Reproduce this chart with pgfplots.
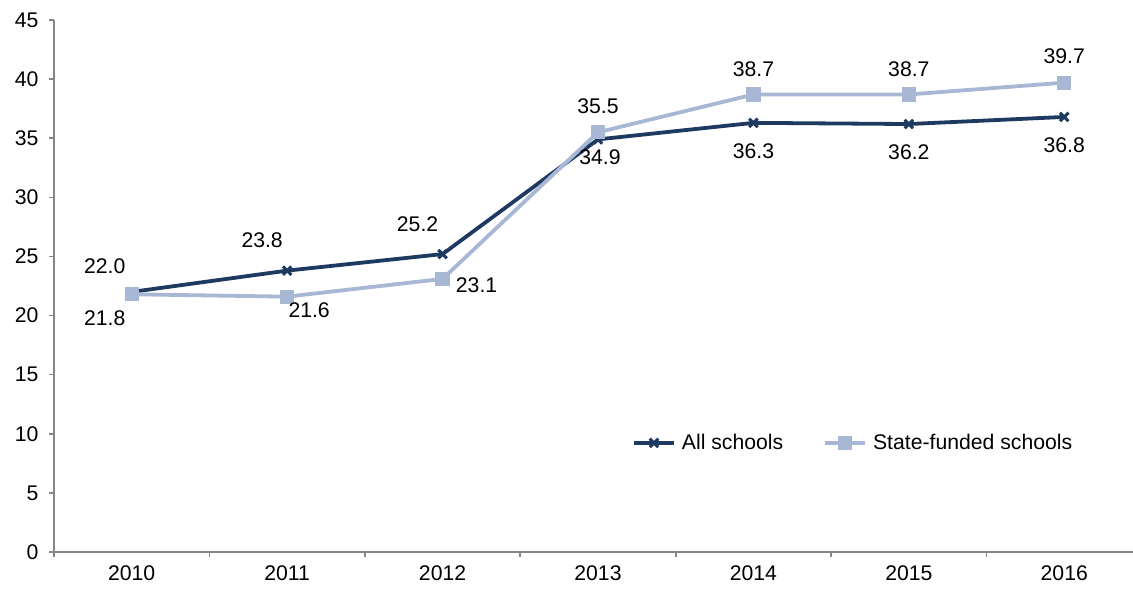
\documentclass[border=0pt]{standalone}
\usepackage{pgfplots}
\pgfplotsset{compat=1.18}
\usepackage{pgfplotstable}
\usepackage{fontspec}
\setmainfont{Liberation Sans}

\definecolor{allcol}{HTML}{1F3A60}
\definecolor{statecol}{HTML}{A7B7D4}
\definecolor{axcol}{HTML}{868686}

% x = category index (2010 = 0), dx/dy = label offset in pt
\pgfplotstableread{
x y lab dx dy
0 22.0 22.0 -13.5 13
1 23.8 23.8 -12.5 15
2 25.2 25.2 -12.5 15
3 34.9 34.9 1 -9
4 36.3 36.3 0 -14
5 36.2 36.2 0 -14
6 36.8 36.8 0 -14
}\allschools
\pgfplotstableread{
x y lab dx dy
0 21.8 21.8 -13.5 -12
1 21.6 21.6 11 -7
2 23.1 23.1 17 -3
3 35.5 35.5 0 13
4 38.7 38.7 0 12.5
5 38.7 38.7 0 12.5
6 39.7 39.7 0 13
}\statefunded

\begin{document}
\fontsize{10.6}{12}\selectfont
\begin{tikzpicture}
\begin{axis}[
    scale only axis,
    width=544pt, height=266pt,
    xmin=-0.5, xmax=6.5,
    ymin=0, ymax=45,
    ytick={0,5,...,45},
    xtick={-0.5,0.5,...,5.5},
    xticklabels={},
    extra x ticks={0,1,2,3,4,5,6},
    extra x tick labels={2010,2011,2012,2013,2014,2015,2016},
    extra x tick style={major tick length=0pt},
    axis x line*=bottom,
    axis y line*=left,
    axis line style={axcol, line width=0.8pt, -},
    tick style={axcol, line width=0.8pt},
    tick align=outside,
    major tick length=2.5pt,
    /pgf/number format/assume math mode=true,
    tick label style={font=\fontsize{10.6}{12}\selectfont, text=black},
    yticklabel style={xshift=-1.5pt},
    xticklabel style={yshift=-3pt},
    legend style={at={(axis description cs:0.531,0.205)}, anchor=west,
        draw=none, fill=none, font=\fontsize{10.6}{12}\selectfont,
        column sep=1pt, inner sep=0pt,
        /tikz/every even column/.append style={column sep=18pt}},
    legend columns=2,
    legend image code/.code={
        \draw[#1] (0pt,0pt) -- (20pt,0pt);
        \draw[#1, only marks] plot coordinates {(10pt,0pt)};
    },
    nodes near coords,
    point meta=explicit symbolic,
    visualization depends on={\thisrow{dx} \as \dx},
    visualization depends on={\thisrow{dy} \as \dy},
    every node near coord/.style={anchor=center, xshift=\dx pt, yshift=\dy pt,
        font=\fontsize{10.6}{12}\selectfont, text=black, inner sep=0pt},
    clip=false,
]
\addplot[color=allcol, line width=1.9pt, mark=x, mark size=3pt,
    mark options={solid, line width=1.5pt}]
    table[x=x, y=y, meta=lab] {\allschools};
\addplot[color=statecol, line width=1.9pt, mark=square*, mark size=2.6pt,
    mark options={solid}]
    table[x=x, y=y, meta=lab] {\statefunded};
\legend{All schools, State-funded schools}
\end{axis}
\pgfresetboundingbox
\path (-27pt,-18.5pt) rectangle (539.5pt,276pt);
\end{tikzpicture}
\end{document}
